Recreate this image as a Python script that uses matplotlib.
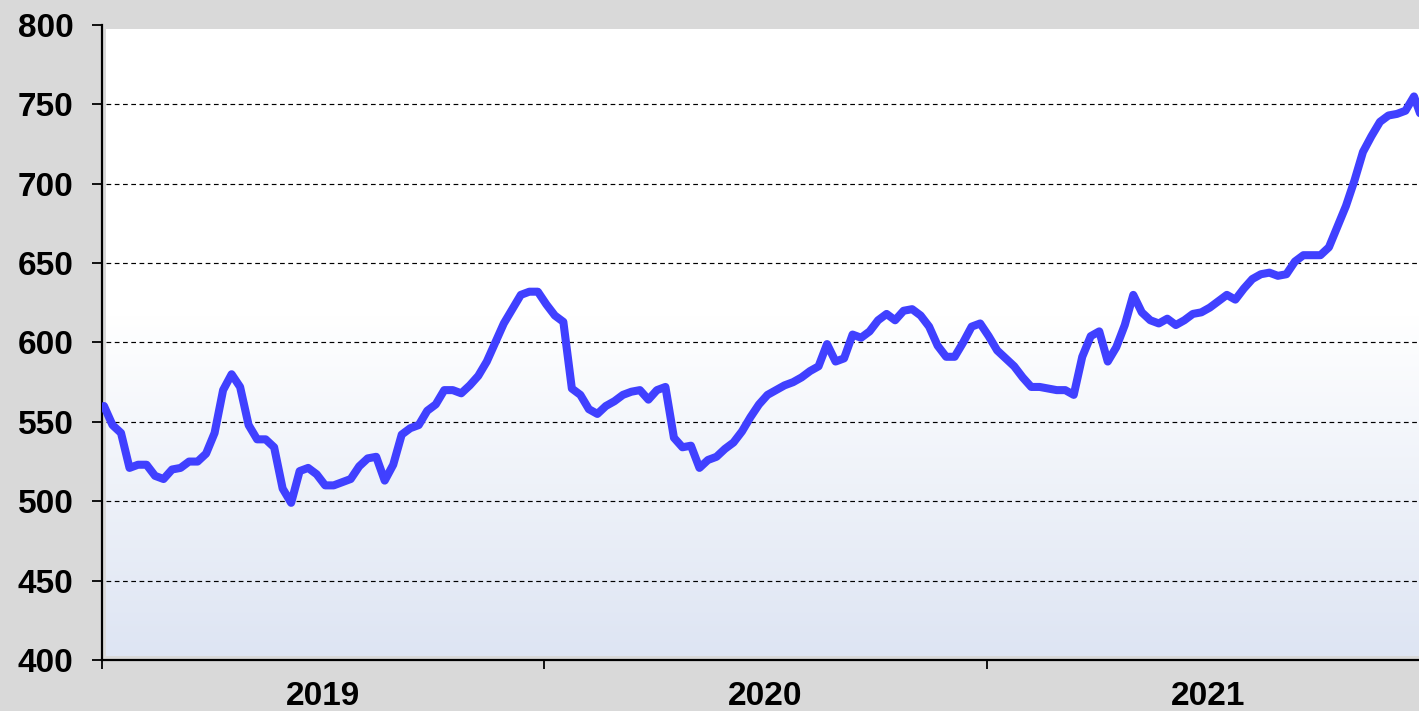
import numpy as np
import matplotlib
matplotlib.use("Agg")
import matplotlib.pyplot as plt
from matplotlib.colors import LinearSegmentedColormap

# weekly values, starting first week of 2019
values = [
    560, 548, 543, 521, 523, 523, 516, 514, 520, 521,
    525, 525, 530, 543, 570, 580, 572, 548, 539, 539,
    534, 508, 499, 519, 521, 517, 510, 510, 512, 514,
    522, 527, 528, 513, 523, 542, 546, 548, 557, 561,
    570, 570, 568, 573, 579, 588, 600, 612, 621, 630,
    632, 632, 624, 617, 613, 571, 567, 558, 555, 560,
    563, 567, 569, 570, 564, 570, 572, 540, 534, 535,
    521, 526, 528, 533, 537, 544, 553, 561, 567, 570,
    573, 575, 578, 582, 585, 599, 588, 590, 605, 603,
    607, 614, 618, 614, 620, 621, 617, 610, 598, 591,
    591, 600, 610, 612, 604, 595, 590, 585, 578, 572,
    572, 571, 570, 570, 567, 591, 604, 607, 588, 597,
    611, 630, 619, 614, 612, 615, 611, 614, 618, 619,
    622, 626, 630, 627, 634, 640, 643, 644, 642, 643,
    651, 655, 655, 655, 660, 673, 686, 702, 720, 730,
    739, 743, 744, 746, 755, 740,
]
years = ["2019", "2020", "2021"]
weeks_per_year = 52
yticks = [400, 450, 500, 550, 600, 650, 700, 750, 800]

plt.rcParams['font.family'] = ['Liberation Sans', 'DejaVu Sans']

fig = plt.figure(figsize=(14.19, 7.11), dpi=100)
fig.patch.set_facecolor("#d9d9d9")
ax = fig.add_axes([102/1419, 51/711, 1 - 102/1419, (660-25)/711])
ax.set_facecolor("#d9d9d9")

x = np.arange(len(values))
x0 = -0.235
xmax = x0 + 1316/8.5
ax.set_xlim(x0, xmax)
ax.set_ylim(400, 800)

# gradient plot area (inset a few pixels from the axes frame)
px_x = 8.5
px_y = 635/400
grad = np.concatenate([np.zeros(45), np.linspace(0, 1, 55)])[:, None]
cmap = LinearSegmentedColormap.from_list("g", ["#ffffff", "#dee5f3"])
ax.imshow(grad, aspect="auto", cmap=cmap, vmin=0, vmax=1,
          extent=[x0 + 4/px_x, xmax, 400 + 4/px_y, 800 - 4/px_y],
          origin="upper", zorder=0, interpolation="bilinear")

for v in yticks[1:-1]:
    ax.axhline(v, color="black", lw=0.85, ls=(0, (4, 3)), zorder=1,
               xmin=4/1316)

ax.plot(x, values, color="#4040ff", lw=5.8, solid_joinstyle="round",
        solid_capstyle="round", zorder=3)

for s in ["top", "right"]:
    ax.spines[s].set_visible(False)
for s in ["left", "bottom"]:
    ax.spines[s].set_linewidth(1.6)
    ax.spines[s].set_color("black")

ax.set_yticks(yticks)
ax.set_yticklabels([str(v) for v in yticks], fontsize=24, fontweight="bold")
ax.tick_params(axis="y", length=7.5, width=1.3, pad=13)

bounds = [x0 + weeks_per_year * i for i in range(len(years))]
centers = [b + weeks_per_year / 2 for b in bounds]
ax.set_xticks(bounds)
ax.set_xticklabels([])
ax.tick_params(axis="x", which="major", length=6.5, width=1.3)
ax.set_xticks(centers, minor=True)
ax.set_xticklabels(years, minor=True, fontsize=24, fontweight="bold")
ax.tick_params(axis="x", which="minor", length=0, pad=15)

fig.savefig("out.png", dpi=100, facecolor=fig.get_facecolor())
